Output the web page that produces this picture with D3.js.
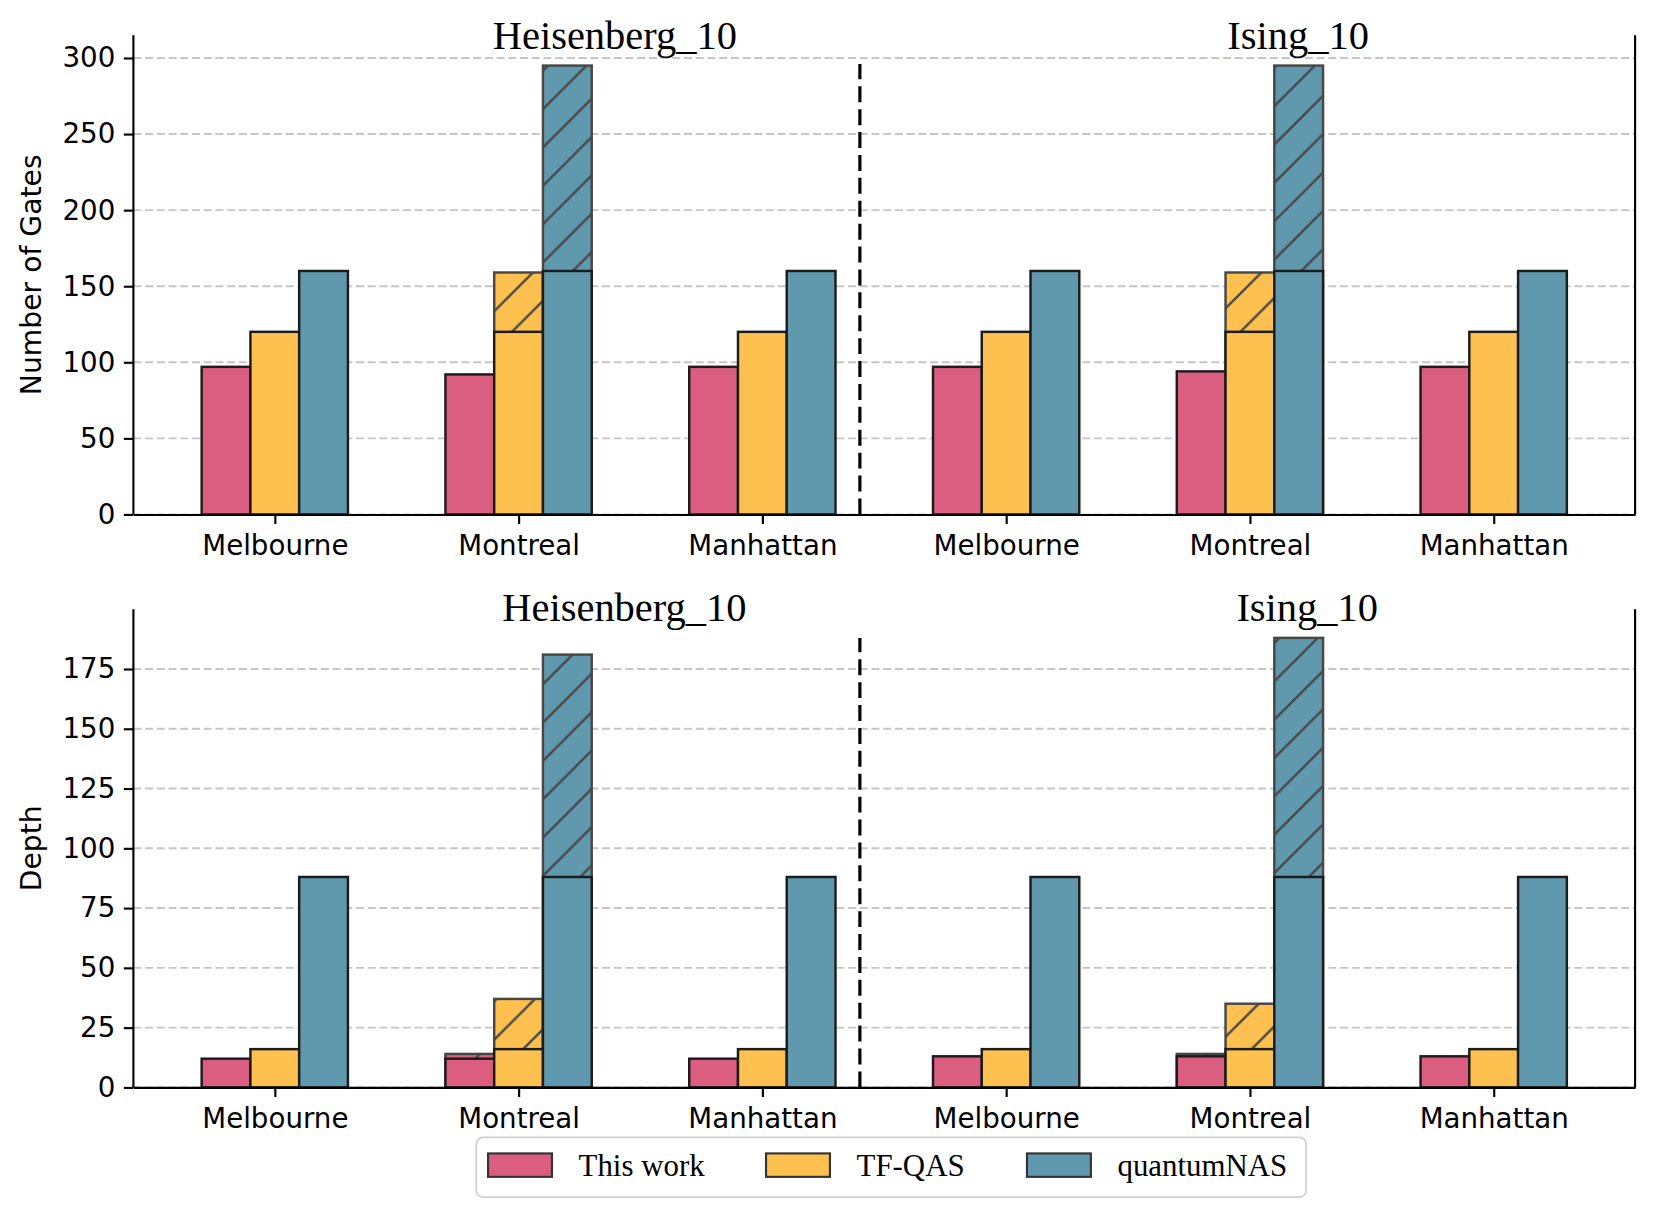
<!DOCTYPE html>
<html>
<head>
<meta charset="utf-8">
<script src="https://cdn.jsdelivr.net/npm/d3@7"></script>
<style>
  body { margin: 0; background: #fff; }
  svg { display: block; }
</style>
</head>
<body>
<svg id="chart"></svg>
<script>
// categories
const devices = ["Melbourne", "Montreal", "Manhattan", "Melbourne", "Montreal", "Manhattan"];
const models = ["Heisenberg_10", "Ising_10"];
const methods = ["This work", "TF-QAS", "quantumNAS"];
const colors = ["#db5e81", "#fec04e", "#6099ae"];

// Number of Gates: solid part and full (hatched) height
const gatesThisWork = [97, 92, 97, 97, 94, 97];
const gatesTFQAS = [120, 120, 120, 120, 120, 120];
const gatesQNAS = [160, 160, 160, 160, 160, 160];
const gatesThisWorkTotal = [97, 92, 97, 97, 94, 97];
const gatesTFQASTotal = [120, 159, 120, 120, 159, 120];
const gatesQNASTotal = [160, 295, 160, 160, 295, 160];

// Depth: solid part and full (hatched) height
const depthThisWork = [12, 12, 12, 13, 13, 13];
const depthTFQAS = [16, 16, 16, 16, 16, 16];
const depthQNAS = [88, 88, 88, 88, 88, 88];
const depthThisWorkTotal = [12, 14, 12, 13, 14, 13];
const depthTFQASTotal = [16, 37, 16, 16, 35, 16];
const depthQNASTotal = [88, 181, 88, 88, 188, 88];

const gatesTicks = [0, 50, 100, 150, 200, 250, 300];
const depthTicks = [0, 25, 50, 75, 100, 125, 150, 175];

let width = 1662, height = 1212;

let svg = d3.select("#chart")
    .attr("width", width)
    .attr("height", height)
    .attr("viewBox", "0 0 1560 1138");

// hatch patterns, one per method colour
let defs = svg.append("defs");
colors.forEach((c, i) => {
    let pat = defs.append("pattern")
        .attr("id", "hatch" + i)
        .attr("patternUnits", "userSpaceOnUse")
        .attr("width", 36)
        .attr("height", 36);
    pat.append("rect").attr("width", 36).attr("height", 36).attr("fill", c);
    pat.append("path")
        .attr("d", "M0,36 L36,0 M-9,9 L9,-9 M27,45 L45,27")
        .attr("stroke", "#474747")
        .attr("stroke-width", 2.2);
});

let x = d3.scaleLinear().domain([-0.58, 5.58]).range([125, 1535]);
let barW = x(0.2) - x(0);

let panels = [
    {top: 33, bottom: 483, ymax: 315, ticks: gatesTicks, label: "Number of Gates",
     base: [gatesThisWork, gatesTFQAS, gatesQNAS],
     total: [gatesThisWorkTotal, gatesTFQASTotal, gatesQNASTotal],
     titleY: 46, titleX: [1.395, 4.198]},
    {top: 572, bottom: 1021, ymax: 200, ticks: depthTicks, label: "Depth",
     base: [depthThisWork, depthTFQAS, depthQNAS],
     total: [depthThisWorkTotal, depthTFQASTotal, depthQNASTotal],
     titleY: 583, titleX: [1.434, 4.235]}
];

panels.forEach(p => {
    let y = d3.scaleLinear().domain([0, p.ymax]).range([p.bottom, p.top]);
    let g = svg.append("g");

    // grid
    g.append("g").selectAll("line")
        .data(p.ticks)
        .enter()
        .append("line")
        .attr("x1", x.range()[0])
        .attr("x2", x.range()[1])
        .attr("y1", d => y(d))
        .attr("y2", d => y(d))
        .attr("stroke", "#c6c6c6")
        .attr("stroke-width", 1.8)
        .attr("stroke-dasharray", "7.5,3.5");

    // hatched (full height) bars first
    methods.forEach((m, i) => {
        let off = (i - 1) * 0.2;
        let rows = p.total[i].map((v, j) => ({v: v, b: p.base[i][j], j: j})).filter(d => d.v > d.b);
        g.append("g").selectAll("rect")
            .data(rows)
            .enter()
            .append("rect")
            .attr("x", d => x(d.j + off) - barW / 2)
            .attr("width", barW)
            .attr("y", d => y(d.v))
            .attr("height", d => y(0) - y(d.v))
            .attr("fill", "url(#hatch" + i + ")")
            .attr("stroke", "#474747")
            .attr("stroke-width", 2.3);
    });

    // solid bars
    methods.forEach((m, i) => {
        let off = (i - 1) * 0.2;
        g.append("g").selectAll("rect")
            .data(p.base[i])
            .enter()
            .append("rect")
            .attr("x", (d, j) => x(j + off) - barW / 2)
            .attr("width", barW)
            .attr("y", d => y(d))
            .attr("height", d => y(0) - y(d))
            .attr("fill", colors[i])
            .attr("stroke", "#1c1c1c")
            .attr("stroke-width", 2.3);
    });

    // separator between the two models
    g.append("line")
        .attr("x1", x(2.4))
        .attr("x2", x(2.4))
        .attr("y1", y(0))
        .attr("y2", y(0.94 * p.ymax))
        .attr("stroke", "#000")
        .attr("stroke-width", 3)
        .attr("stroke-dasharray", "15,6.5");

    // axes
    let xAxis = g.append("g")
        .attr("transform", `translate(0,${p.bottom})`)
        .call(d3.axisBottom(x)
            .tickValues(d3.range(devices.length))
            .tickFormat(i => devices[i])
            .tickSize(9)
            .tickSizeOuter(0)
            .tickPadding(11));

    let yAxis = g.append("g")
        .attr("transform", `translate(${x.range()[0]},0)`)
        .call(d3.axisLeft(y)
            .tickValues(p.ticks)
            .tickSize(9)
            .tickSizeOuter(0)
            .tickPadding(8));

    [xAxis, yAxis].forEach(a => {
        a.select(".domain").attr("stroke", "#000").attr("stroke-width", 2);
        a.selectAll(".tick line").attr("stroke", "#000").attr("stroke-width", 2);
        a.selectAll(".tick text")
            .attr("fill", "#000")
            .style("font-family", "'DejaVu Sans', sans-serif")
            .style("font-size", "26px");
    });
    yAxis.select(".domain").attr("d", `M0,${p.bottom}V${p.top}`);

    // right spine
    g.append("line")
        .attr("x1", x.range()[1])
        .attr("x2", x.range()[1])
        .attr("y1", p.top)
        .attr("y2", p.bottom)
        .attr("stroke", "#000")
        .attr("stroke-width", 2);

    // y label
    g.append("text")
        .attr("transform", `translate(31,${(p.top + p.bottom) / 2}) rotate(-90)`)
        .attr("text-anchor", "middle")
        .attr("dominant-baseline", "middle")
        .style("font-family", "'DejaVu Sans', sans-serif")
        .style("font-size", "26.5px")
        .text(p.label);

    // model titles
    models.forEach((t, k) => {
        g.append("text")
            .attr("x", x(p.titleX[k]))
            .attr("y", p.titleY)
            .attr("text-anchor", "middle")
            .style("font-family", "'Liberation Serif', 'Times New Roman', serif")
            .style("font-size", "38px")
            .text(t);
    });
});

// legend
let legend = svg.append("g");
legend.append("rect")
    .attr("x", 447)
    .attr("y", 1068)
    .attr("width", 779)
    .attr("height", 56)
    .attr("rx", 6)
    .attr("fill", "#fff")
    .attr("stroke", "#d0d0d0")
    .attr("stroke-width", 1.6);

let legendX = [458, 719, 964];
methods.forEach((m, i) => {
    legend.append("rect")
        .attr("x", legendX[i])
        .attr("y", 1083)
        .attr("width", 60)
        .attr("height", 22)
        .attr("fill", colors[i])
        .attr("stroke", "#333")
        .attr("stroke-width", 2);
    legend.append("text")
        .attr("x", legendX[i] + 85)
        .attr("y", 1104)
        .style("font-family", "'Liberation Serif', 'Times New Roman', serif")
        .style("font-size", "29px")
        .text(m);
});
</script>
</body>
</html>
